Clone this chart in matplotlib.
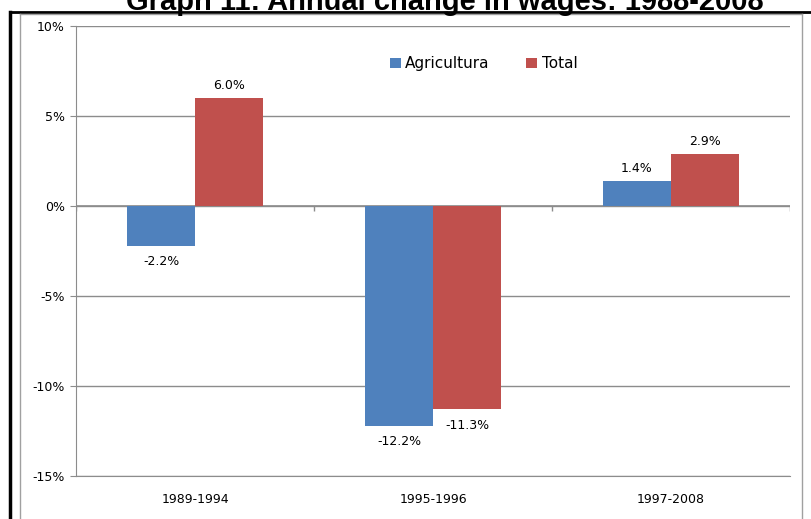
import numpy as np
import matplotlib
matplotlib.use("Agg")
import matplotlib.pyplot as plt
from matplotlib.lines import Line2D

plt.rcParams["font.family"] = ["DejaVu Sans"]

periods = ["1989-1994", "1995-1996", "1997-2008"]
agricultura = [-2.2, -12.2, 1.4]
total = [6.0, -11.3, 2.9]
series_names = ["Agricultura", "Total"]
yticks = [10, 5, 0, -5, -10, -15]

blue = "#4F81BD"
red = "#C0504D"
grid_grey = "#8C8C8C"

fig = plt.figure(figsize=(8.11, 5.19), dpi=100)
ax = fig.add_axes([76 / 811, 1 - 476 / 519, 714 / 811, 450 / 519])

x = np.arange(len(periods))
w = 68 / 238
b1 = ax.bar(x - w / 2, agricultura, w, color=blue, label=series_names[0], zorder=3)
b2 = ax.bar(x + w / 2, total, w, color=red, label=series_names[1], zorder=3)

for bars, vals in [(b1, agricultura), (b2, total)]:
    for r, v in zip(bars, vals):
        cx = r.get_x() + r.get_width() / 2
        if v >= 0:
            ax.annotate(f"{v:.1f}%", (cx, v), xytext=(0, 4), textcoords="offset points",
                        ha="center", va="bottom", fontsize=9)
        else:
            ax.annotate(f"{v:.1f}%", (cx, v), xytext=(0, -7), textcoords="offset points",
                        ha="center", va="top", fontsize=9)

ax.set_xlim(-0.5, len(periods) - 0.5)
ax.set_ylim(-15, 10)
ax.set_yticks(yticks)
ax.set_yticklabels([f"{t}%" for t in yticks], fontsize=9)
ax.set_xticks(x)
ax.set_xticklabels(periods, fontsize=9)
ax.tick_params(axis="x", length=0, pad=12)
ax.tick_params(axis="y", length=4, color=grid_grey, pad=4)
ax.grid(axis="y", color=grid_grey, linewidth=1, zorder=0)
for s in ["top", "right"]:
    ax.spines[s].set_visible(False)
ax.spines["left"].set_color(grid_grey)
ax.spines["bottom"].set_color(grid_grey)

# category axis at zero with small tick marks between groups
ax.axhline(0, color=grid_grey, linewidth=1.2, zorder=2)
bounds = np.arange(len(periods) + 1) - 0.5
ax.vlines(bounds, -0.25, 0, color=grid_grey, linewidth=1, zorder=2)

ax.legend(loc="center", bbox_to_anchor=(0.571, 0.9156), ncol=2, frameon=False,
          fontsize=11, handlelength=0.7, handleheight=0.7, handletextpad=0.3,
          columnspacing=2.4)

# outer frame
fig.add_artist(Line2D([10 / 811, 10 / 811], [0, 1 - 12 / 519], color="black", linewidth=2.5))
fig.add_artist(Line2D([10 / 811, 1], [1 - 12 / 519, 1 - 12 / 519], color="black", linewidth=2))
fig.add_artist(Line2D([20 / 811, 20 / 811], [0, 1 - 14 / 519], color="#A0A0A0", linewidth=1))
fig.add_artist(Line2D([20 / 811, 802 / 811], [1 - 14 / 519, 1 - 14 / 519], color="#A0A0A0", linewidth=1))
fig.add_artist(Line2D([802 / 811, 802 / 811], [0, 1 - 14 / 519], color="#A0A0A0", linewidth=1))

fig.text(445 / 811, 1 - 10 / 519, "Graph 11: Annual change in wages: 1988-2008",
         ha="center", va="baseline", fontsize=21, fontweight="bold",
         family=["Liberation Sans", "DejaVu Sans"])

fig.savefig("out.png", dpi=100)
